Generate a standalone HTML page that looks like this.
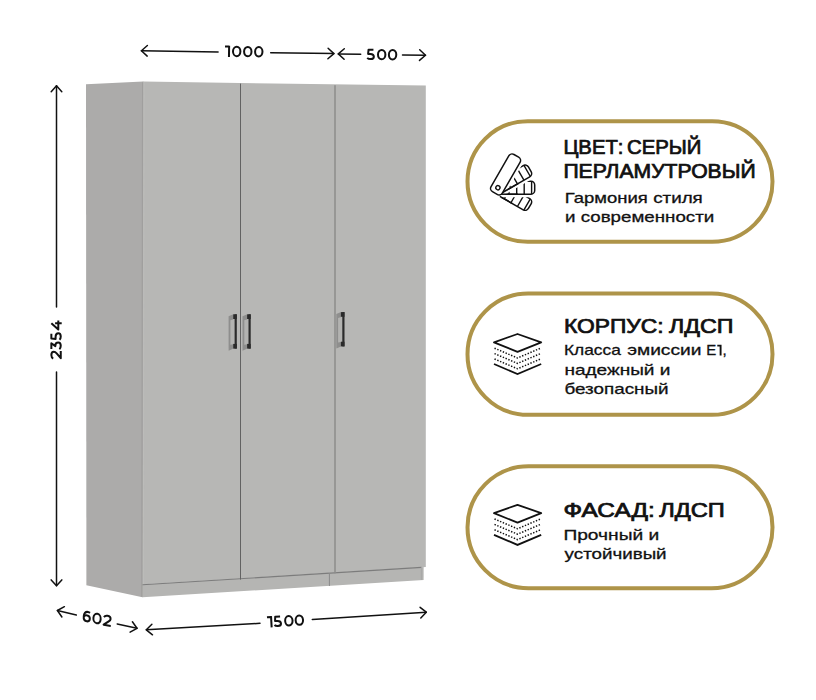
<!DOCTYPE html>
<html><head><meta charset="utf-8">
<style>
html,body{margin:0;padding:0;background:#fff;width:816px;height:700px;overflow:hidden}
svg{display:block;font-family:"Liberation Sans",sans-serif}
.ttl{font-size:19.3px;fill:#111;stroke:#111;stroke-width:0.72px}
.bdy{font-size:15px;fill:#111;stroke:#111;stroke-width:0.3px}
</style></head><body>
<svg width="816" height="700" viewBox="0 0 816 700">
<!-- wardrobe -->
<g id="wardrobe">
    <polygon points="140,83 143.3,81.6 425.8,85.6 425.8,567 140,584.5" fill="#b7b7b5"/>
  <polygon points="140,584.5 423.6,567 423.6,580 142.5,597.3 140,596" fill="#b5b5b3"/>
  <polygon points="86,84.2 143.3,81.6 142.5,597.3 86.4,585.3" fill="#acabaa"/>
  <line x1="142.6" y1="82.2" x2="141.8" y2="596.8" stroke="#a09f9e" stroke-width="1.2"/>
  <line x1="144.0" y1="82.2" x2="143.4" y2="584.3" stroke="#bcbcba" stroke-width="1"/>
  <line x1="142.5" y1="584.8" x2="421.5" y2="567.4" stroke="#7c7c7c" stroke-width="1.1"/>
  <line x1="240.5" y1="83.6" x2="240.5" y2="579.6" stroke="#626262" stroke-width="1"/>
  <line x1="335" y1="85.3" x2="335" y2="573.3" stroke="#8c8c8b" stroke-width="1.5"/>
  <line x1="329.4" y1="574" x2="329.4" y2="586" stroke="#8a8a8a" stroke-width="1"/>
  <line x1="421.5" y1="567.5" x2="421.5" y2="580" stroke="#a9a9a8" stroke-width="1.5"/>
  <!-- handles -->
  <g>
    <polygon points="228.6,316.2 233.4,314.3 233.4,348.6 228.6,350.7" fill="#8e8e8d"/>
    <polygon points="230.4,320.2 234.6,319 234.6,343.9 230.4,344.8" fill="#b3b3b1"/>
    <rect x="233.2" y="314.3" width="3.6" height="4.7" fill="#2b2b2b"/>
    <rect x="233.2" y="343.9" width="3.6" height="4.7" fill="#2b2b2b"/>
    <rect x="234.6" y="314.3" width="2.2" height="34.3" fill="#2b2b2b"/>
  </g>
  <g transform="translate(13.9,0)">
    <polygon points="228.6,316.2 233.4,314.3 233.4,348.6 228.6,350.7" fill="#8e8e8d"/>
    <polygon points="230.4,320.2 234.6,319 234.6,343.9 230.4,344.8" fill="#b3b3b1"/>
    <rect x="233.2" y="314.3" width="3.6" height="4.7" fill="#2b2b2b"/>
    <rect x="233.2" y="343.9" width="3.6" height="4.7" fill="#2b2b2b"/>
    <rect x="234.6" y="314.3" width="2.2" height="34.3" fill="#2b2b2b"/>
  </g>
  <g transform="translate(107.7,-2.2)">
    <polygon points="228.6,316.2 233.4,314.3 233.4,348.6 228.6,350.7" fill="#8e8e8d"/>
    <polygon points="230.4,320.2 234.6,319 234.6,343.9 230.4,344.8" fill="#b3b3b1"/>
    <rect x="233.2" y="314.3" width="3.6" height="4.7" fill="#2b2b2b"/>
    <rect x="233.2" y="343.9" width="3.6" height="4.7" fill="#2b2b2b"/>
    <rect x="234.6" y="314.3" width="2.2" height="34.3" fill="#2b2b2b"/>
  </g>
</g>

<!-- dimension lines -->
<g id="arrows" stroke="#111" stroke-width="1.5" fill="none" stroke-linecap="round" stroke-linejoin="round">
  <line x1="218.1" y1="51.9" x2="141.4" y2="50.7"/>
  <polyline points="147.4,45.5 141.4,50.7 147.2,56.1"/>
  <line x1="270.7" y1="52.8" x2="333.9" y2="53.6"/>
  <polyline points="327.9,58.8 333.9,53.6 328.1,48.2"/>
  <line x1="360.7" y1="54.2" x2="338.3" y2="53.9"/>
  <polyline points="344.3,48.7 338.3,53.9 344.1,59.3"/>
  <line x1="402.5" y1="54.9" x2="425.5" y2="55.2"/>
  <polyline points="419.5,60.4 425.5,55.2 419.7,49.8"/>
  <line x1="56.5" y1="306.9" x2="56.5" y2="85.8"/>
  <polyline points="61.8,91.7 56.5,85.8 51.2,91.7"/>
  <line x1="56.5" y1="372.1" x2="56.5" y2="585.8"/>
  <polyline points="51.2,579.9 56.5,585.8 61.8,579.9"/>
  <line x1="76.3" y1="615.0" x2="57.4" y2="610.5"/>
  <polyline points="64.4,606.7 57.4,610.5 61.9,617.0"/>
  <line x1="117.2" y1="623.9" x2="137.0" y2="628.3"/>
  <polyline points="130.1,632.2 137.0,628.3 132.4,621.8"/>
  <line x1="260.0" y1="623.3" x2="146.3" y2="629.8"/>
  <polyline points="151.9,624.2 146.3,629.8 152.5,634.8"/>
  <line x1="312.3" y1="619.5" x2="426.3" y2="612.2"/>
  <polyline points="420.8,617.9 426.3,612.2 420.1,607.3"/>
</g>
<g class="dim" fill="none" stroke="#111" stroke-width="2.0" stroke-linejoin="round">
  <g transform="translate(224.9 56.9) rotate(0.9)"><g transform="translate(0.00 0)"><path d="M-0.05 -10.35H4.06M4.06 -11.30V0.00"/></g><g transform="translate(7.00 0)"><ellipse cx="4.70" cy="-5.65" rx="3.70" ry="4.7"/></g><g transform="translate(18.10 0)"><ellipse cx="4.70" cy="-5.65" rx="3.70" ry="4.7"/></g><g transform="translate(29.10 0)"><ellipse cx="4.70" cy="-5.65" rx="3.70" ry="4.7"/></g></g>
  <g transform="translate(366.7 60.0) rotate(0.9)"><g transform="translate(0.00 0)"><path d="M6.58 -10.35H1.69L1.32 -6.10H3.45C5.75 -6.10 7.09 -5.10 7.09 -3.40C7.09 -1.70 5.75 -0.95 3.82 -0.95C2.43 -0.95 1.23 -1.40 0.49 -2.20"/></g><g transform="translate(10.20 0)"><ellipse cx="4.70" cy="-5.65" rx="3.70" ry="4.7"/></g><g transform="translate(21.10 0)"><ellipse cx="4.70" cy="-5.65" rx="3.70" ry="4.7"/></g></g>
  <g transform="translate(61.7 359.2) rotate(-90)"><g transform="translate(0.00 0)"><path d="M0.69 -8.50C1.36 -9.75 2.69 -10.35 4.23 -10.35C6.27 -10.35 7.50 -9.35 7.50 -7.85C7.50 -6.85 6.99 -6.05 5.86 -5.05L1.05 -0.95H8.32"/></g><g transform="translate(9.30 0)"><path d="M1.00 -10.35H6.66L3.79 -6.35H4.25C6.20 -6.35 7.45 -5.25 7.45 -3.50C7.45 -1.80 6.11 -0.95 4.16 -0.95C2.76 -0.95 1.46 -1.40 0.72 -2.30"/></g><g transform="translate(18.90 0)"><path d="M6.58 -10.35H1.69L1.32 -6.10H3.45C5.75 -6.10 7.09 -5.10 7.09 -3.40C7.09 -1.70 5.75 -0.95 3.82 -0.95C2.43 -0.95 1.23 -1.40 0.49 -2.20"/></g><g transform="translate(28.70 0)"><path d="M7.20 -10.35L0.95 -3.40H10.00M7.20 -6.60V0.00"/></g></g>
  <g transform="translate(82.3 621.4) rotate(11.2) skewX(6)"><g transform="translate(0.00 0)"><path d="M6.95 -9.85C6.36 -10.20 5.66 -10.35 4.87 -10.35C2.39 -10.35 0.95 -8.40 0.95 -5.20C0.95 -2.40 2.29 -0.95 4.47 -0.95C6.16 -0.95 7.30 -2.10 7.30 -3.90C7.30 -5.70 6.06 -6.80 4.37 -6.80C2.69 -6.80 1.30 -5.80 0.95 -4.30"/></g><g transform="translate(9.80 0)"><ellipse cx="4.70" cy="-5.65" rx="3.70" ry="4.7"/></g><g transform="translate(20.60 0)"><path d="M0.69 -8.50C1.36 -9.75 2.69 -10.35 4.23 -10.35C6.27 -10.35 7.50 -9.35 7.50 -7.85C7.50 -6.85 6.99 -6.05 5.86 -5.05L1.05 -0.95H8.32"/></g></g>
  <g transform="translate(267.6 627.6) rotate(-3.2)"><g transform="translate(0.00 0)"><path d="M-0.05 -10.35H4.06M4.06 -11.30V0.00"/></g><g transform="translate(6.50 0)"><path d="M6.58 -10.35H1.69L1.32 -6.10H3.45C5.75 -6.10 7.09 -5.10 7.09 -3.40C7.09 -1.70 5.75 -0.95 3.82 -0.95C2.43 -0.95 1.23 -1.40 0.49 -2.20"/></g><g transform="translate(16.90 0)"><ellipse cx="4.70" cy="-5.65" rx="3.70" ry="4.7"/></g><g transform="translate(27.40 0)"><ellipse cx="4.70" cy="-5.65" rx="3.70" ry="4.7"/></g></g>
</g>

<!-- cards -->
<g fill="#fff" stroke="#ae9449" stroke-width="4">
  <rect x="467.5" y="121.2" width="305" height="120.6" rx="60.3"/>
  <rect x="467.5" y="293.6" width="305" height="121.2" rx="60.6"/>
  <rect x="467.5" y="466.3" width="305" height="121.9" rx="61"/>
</g>

<g class="ttl">
  <text x="563.4" y="153.8" textLength="60.0" lengthAdjust="spacingAndGlyphs">ЦВЕТ:</text>
  <text x="627.0" y="153.8" textLength="74.4" lengthAdjust="spacingAndGlyphs">СЕРЫЙ</text>
  <text x="563.4" y="177.9" textLength="192.2" lengthAdjust="spacingAndGlyphs">ПЕРЛАМУТРОВЫЙ</text>
  <text x="564.0" y="332.8" textLength="99.6" lengthAdjust="spacingAndGlyphs">КОРПУС:</text>
  <text x="669.0" y="332.8" textLength="64.4" lengthAdjust="spacingAndGlyphs">ЛДСП</text>
  <text x="563.6" y="517.1" textLength="91.2" lengthAdjust="spacingAndGlyphs">ФАСАД:</text>
  <text x="659.2" y="517.1" textLength="65.6" lengthAdjust="spacingAndGlyphs">ЛДСП</text>
</g>
<g class="bdy">
  <text x="564.8" y="203.2" textLength="83.0" lengthAdjust="spacingAndGlyphs">Гармония</text>
  <text x="653.2" y="203.2" textLength="49.6" lengthAdjust="spacingAndGlyphs">стиля</text>
  <text x="565.0" y="222.3" textLength="149.2" lengthAdjust="spacingAndGlyphs">и современности</text>
  <text x="564.0" y="355.4" textLength="56.8" lengthAdjust="spacingAndGlyphs">Класса</text>
  <text x="627.2" y="355.4" textLength="74.2" lengthAdjust="spacingAndGlyphs">эмиссии</text>
  <text x="564.4" y="374.6" textLength="106.0" lengthAdjust="spacingAndGlyphs">надежный и</text>
  <text x="564.4" y="393.5" textLength="104.2" lengthAdjust="spacingAndGlyphs">безопасный</text>
  <text x="563.4" y="540.0" textLength="95.8" lengthAdjust="spacingAndGlyphs">Прочный и</text>
  <text x="564.6" y="558.8" textLength="102.0" lengthAdjust="spacingAndGlyphs">устойчивый</text>
  <text x="706.3" y="355.4">Е</text>
  <path d="M717.3,345.6H720.6M720.6,344.7V355.5" fill="none" stroke-width="1.9"/>
  <text x="722.4" y="355.4">,</text>
</g>

<!-- icons -->

<g transform="translate(497.9 187.7)">
  <g transform="rotate(120)">
    <rect x="-6.5" y="-36.8" width="13" height="39.8" rx="3.8" fill="#fff" stroke="#fff" stroke-width="6"/>
    <rect x="-6.5" y="-36.8" width="13" height="39.8" rx="3.8" fill="#fff" stroke="#111" stroke-width="1.5"/>
    <path d="M-6.5 -33.7H6.5 M-6.5 -26.3H6.5 M-6.5 -18.8H6.5 M-6.5 -11H6.5" stroke="#111" stroke-width="1.4"/>
  </g>
  <g transform="rotate(90)">
    <rect x="-6.5" y="-36.8" width="13" height="39.8" rx="3.8" fill="#fff" stroke="#fff" stroke-width="6"/>
    <rect x="-6.5" y="-36.8" width="13" height="39.8" rx="3.8" fill="#fff" stroke="#111" stroke-width="1.5"/>
    <path d="M-6.5 -33.7H6.5 M-6.5 -26.3H6.5 M-6.5 -18.8H6.5 M-6.5 -11H6.5" stroke="#111" stroke-width="1.4"/>
  </g>
  <g transform="rotate(60)">
    <rect x="-6.5" y="-36.8" width="13" height="39.8" rx="3.8" fill="#fff" stroke="#fff" stroke-width="6"/>
    <rect x="-6.5" y="-36.8" width="13" height="39.8" rx="3.8" fill="#fff" stroke="#111" stroke-width="1.5"/>
    <path d="M-6.5 -33.7H6.5 M-6.5 -26.3H6.5 M-6.5 -18.8H6.5 M-6.5 -11H6.5" stroke="#111" stroke-width="1.4"/>
  </g>
  <g transform="rotate(30)">
    <rect x="-6.5" y="-36.8" width="13" height="43" rx="3.8" fill="#fff" stroke="#fff" stroke-width="6"/>
  </g>
  <g stroke="#111" stroke-width="1.5">
    <line x1="6.5" y1="-1.2" x2="6.5" y2="-20" transform="rotate(60)"/>
    <line x1="6.5" y1="-3.2" x2="6.5" y2="-20" transform="rotate(90)"/>
    <line x1="6.5" y1="-6" x2="6.5" y2="-20" transform="rotate(120)"/>
  </g>
  <g transform="rotate(30)">
    <rect x="-6.5" y="-36.8" width="13" height="43" rx="3.8" fill="#fff" stroke="#111" stroke-width="1.5"/>
    <circle cx="0" cy="0" r="2.1" fill="none" stroke="#111" stroke-width="1.4"/>
  </g>
</g>
<g fill="none" stroke="#111">
    <polygon points="517.5,334 541.2,342.3 517.5,351.9 494,342.3" stroke-width="1.8" stroke-linejoin="round"/>
    <polyline points="494,364 517.5,374.1 541.2,364" stroke-width="1.8"/>
    <g stroke-width="1.5" stroke-dasharray="1.4 1.6">
      <polyline points="494.5,348.2 517.5,358 540.5,348.2"/>
      <polyline points="494.5,353.6 517.5,363.4 540.5,353.6"/>
      <polyline points="494.5,359 517.5,368.8 540.5,359"/>
    </g>
  </g>
<g transform="translate(0 170.8)" fill="none" stroke="#111">
    <polygon points="517.5,334 541.2,342.3 517.5,351.9 494,342.3" stroke-width="1.8" stroke-linejoin="round"/>
    <polyline points="494,364 517.5,374.1 541.2,364" stroke-width="1.8"/>
    <g stroke-width="1.5" stroke-dasharray="1.4 1.6">
      <polyline points="494.5,348.2 517.5,358 540.5,348.2"/>
      <polyline points="494.5,353.6 517.5,363.4 540.5,353.6"/>
      <polyline points="494.5,359 517.5,368.8 540.5,359"/>
    </g>
  </g>
</svg>
</body></html>
